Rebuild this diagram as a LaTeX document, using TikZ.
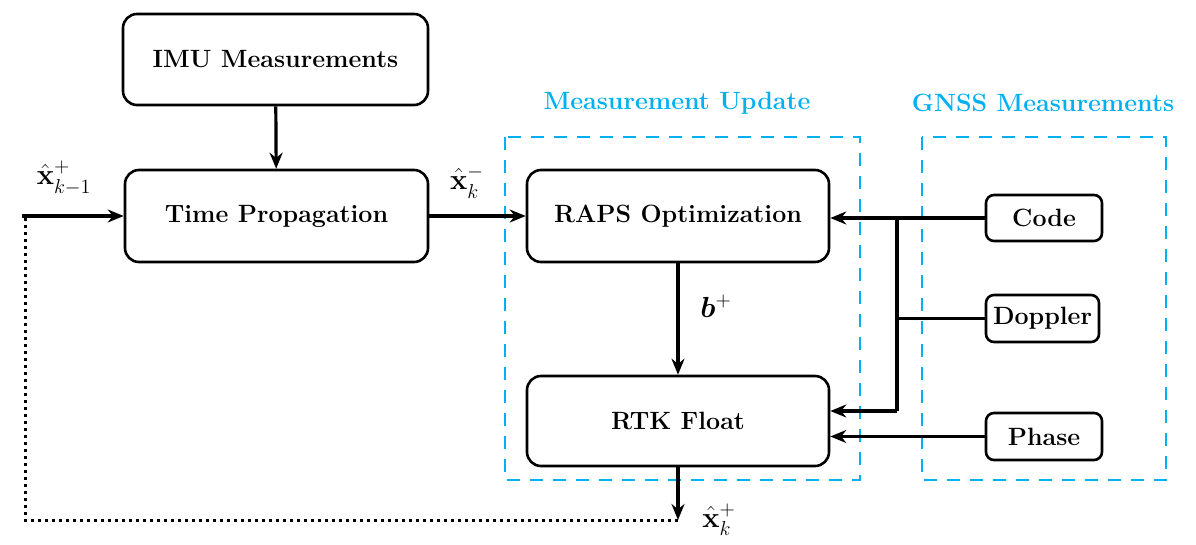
\documentclass[tikz,border=0pt]{standalone}
\usepackage{amsmath,amssymb,bm}
\usetikzlibrary{arrows.meta}
\definecolor{skyblue}{RGB}{0,176,240}
\newcommand{\biglabel}[1]{\scalebox{1.4}{$#1$}}
\tikzset{
  block/.style={draw,line width=2.6pt,rounded corners=14pt,font=\fontsize{25}{30}\selectfont\bfseries},
  sblock/.style={draw,line width=2.6pt,rounded corners=8pt,font=\fontsize{25}{30}\selectfont\bfseries},
  group/.style={draw=skyblue,line width=2.6pt,dash pattern=on 13pt off 10pt},
  grouplabel/.style={text=skyblue,font=\fontsize{25}{30}\selectfont\bfseries},
  mathlabel/.style={font=\huge},
  flow/.style={line width=3.2pt,-{Stealth[length=16pt,width=13pt]}},
  wire/.style={line width=3.2pt},
}
\begin{document}
\begin{tikzpicture}[x=1pt,y=-1pt]
  \useasboundingbox (0,0) rectangle (1196,544);
  % groups
  \draw[group] (505,137) rectangle (860,480);
  \draw[group] (922,137) rectangle (1166,480);
  \node[grouplabel] (mulabel) at (677,103) {Measurement Update};
  \node[grouplabel] (gnsslabel) at (1043,103) {GNSS Measurements};
  % blocks
  \node[block,minimum width=305pt,minimum height=91pt] (imu) at (275.5,59.5) {IMU Measurements};
  \node[block,minimum width=303pt,minimum height=92pt] (tp) at (276.5,216) {Time Propagation};
  \node[block,minimum width=302pt,minimum height=92pt] (raps) at (678,216) {RAPS Optimization};
  \node[block,minimum width=302pt,minimum height=90pt] (rtk) at (678,421) {RTK Float};
  \node[sblock,minimum width=116pt,minimum height=46pt] (code) at (1044,218) {Code};
  \node[sblock,minimum width=113pt,minimum height=47pt] (doppler) at (1042.5,318.5) {Doppler};
  \node[sblock,minimum width=116pt,minimum height=47pt] (phase) at (1044,436.5) {Phase};
  % helper points
  \coordinate (in) at (22,216);
  \coordinate (junc) at (897,218);
  \coordinate (jend) at (897,411);
  \coordinate (out) at (678,520);
  \coordinate (back) at (25,520);
  % connectors
  \draw[flow] (imu) -- (tp);
  \draw[flow] (in) -- (tp);
  \node[mathlabel] (xprev) at (64,178) {\biglabel{\hat{\mathbf{x}}_{k-1}^{+}}};
  \draw[flow] (tp) -- (raps);
  \node[mathlabel] (xminus) at (467,182) {\biglabel{\hat{\mathbf{x}}_{k}^{-}}};
  \draw[flow] (raps) -- (rtk);
  \node[mathlabel] (bplus) at (716,306) {\biglabel{\bm{b}^{+}}};
  \draw[flow] (code) -- (raps.east |- code);
  \draw[wire] (junc) -- (jend);
  \draw[flow] (jend) -- (rtk.east |- jend);
  \draw[wire] (doppler) -- (junc |- doppler);
  \draw[flow] (phase) -- (rtk.east |- phase);
  \draw[flow] (rtk) -- (out);
  \node[mathlabel] (xplus) at (719,520) {\biglabel{\hat{\mathbf{x}}_{k}^{+}}};
  \draw[line width=3pt,dash pattern=on 3pt off 4pt] (out) -- (back) -- (back |- in);
\end{tikzpicture}
\end{document}
